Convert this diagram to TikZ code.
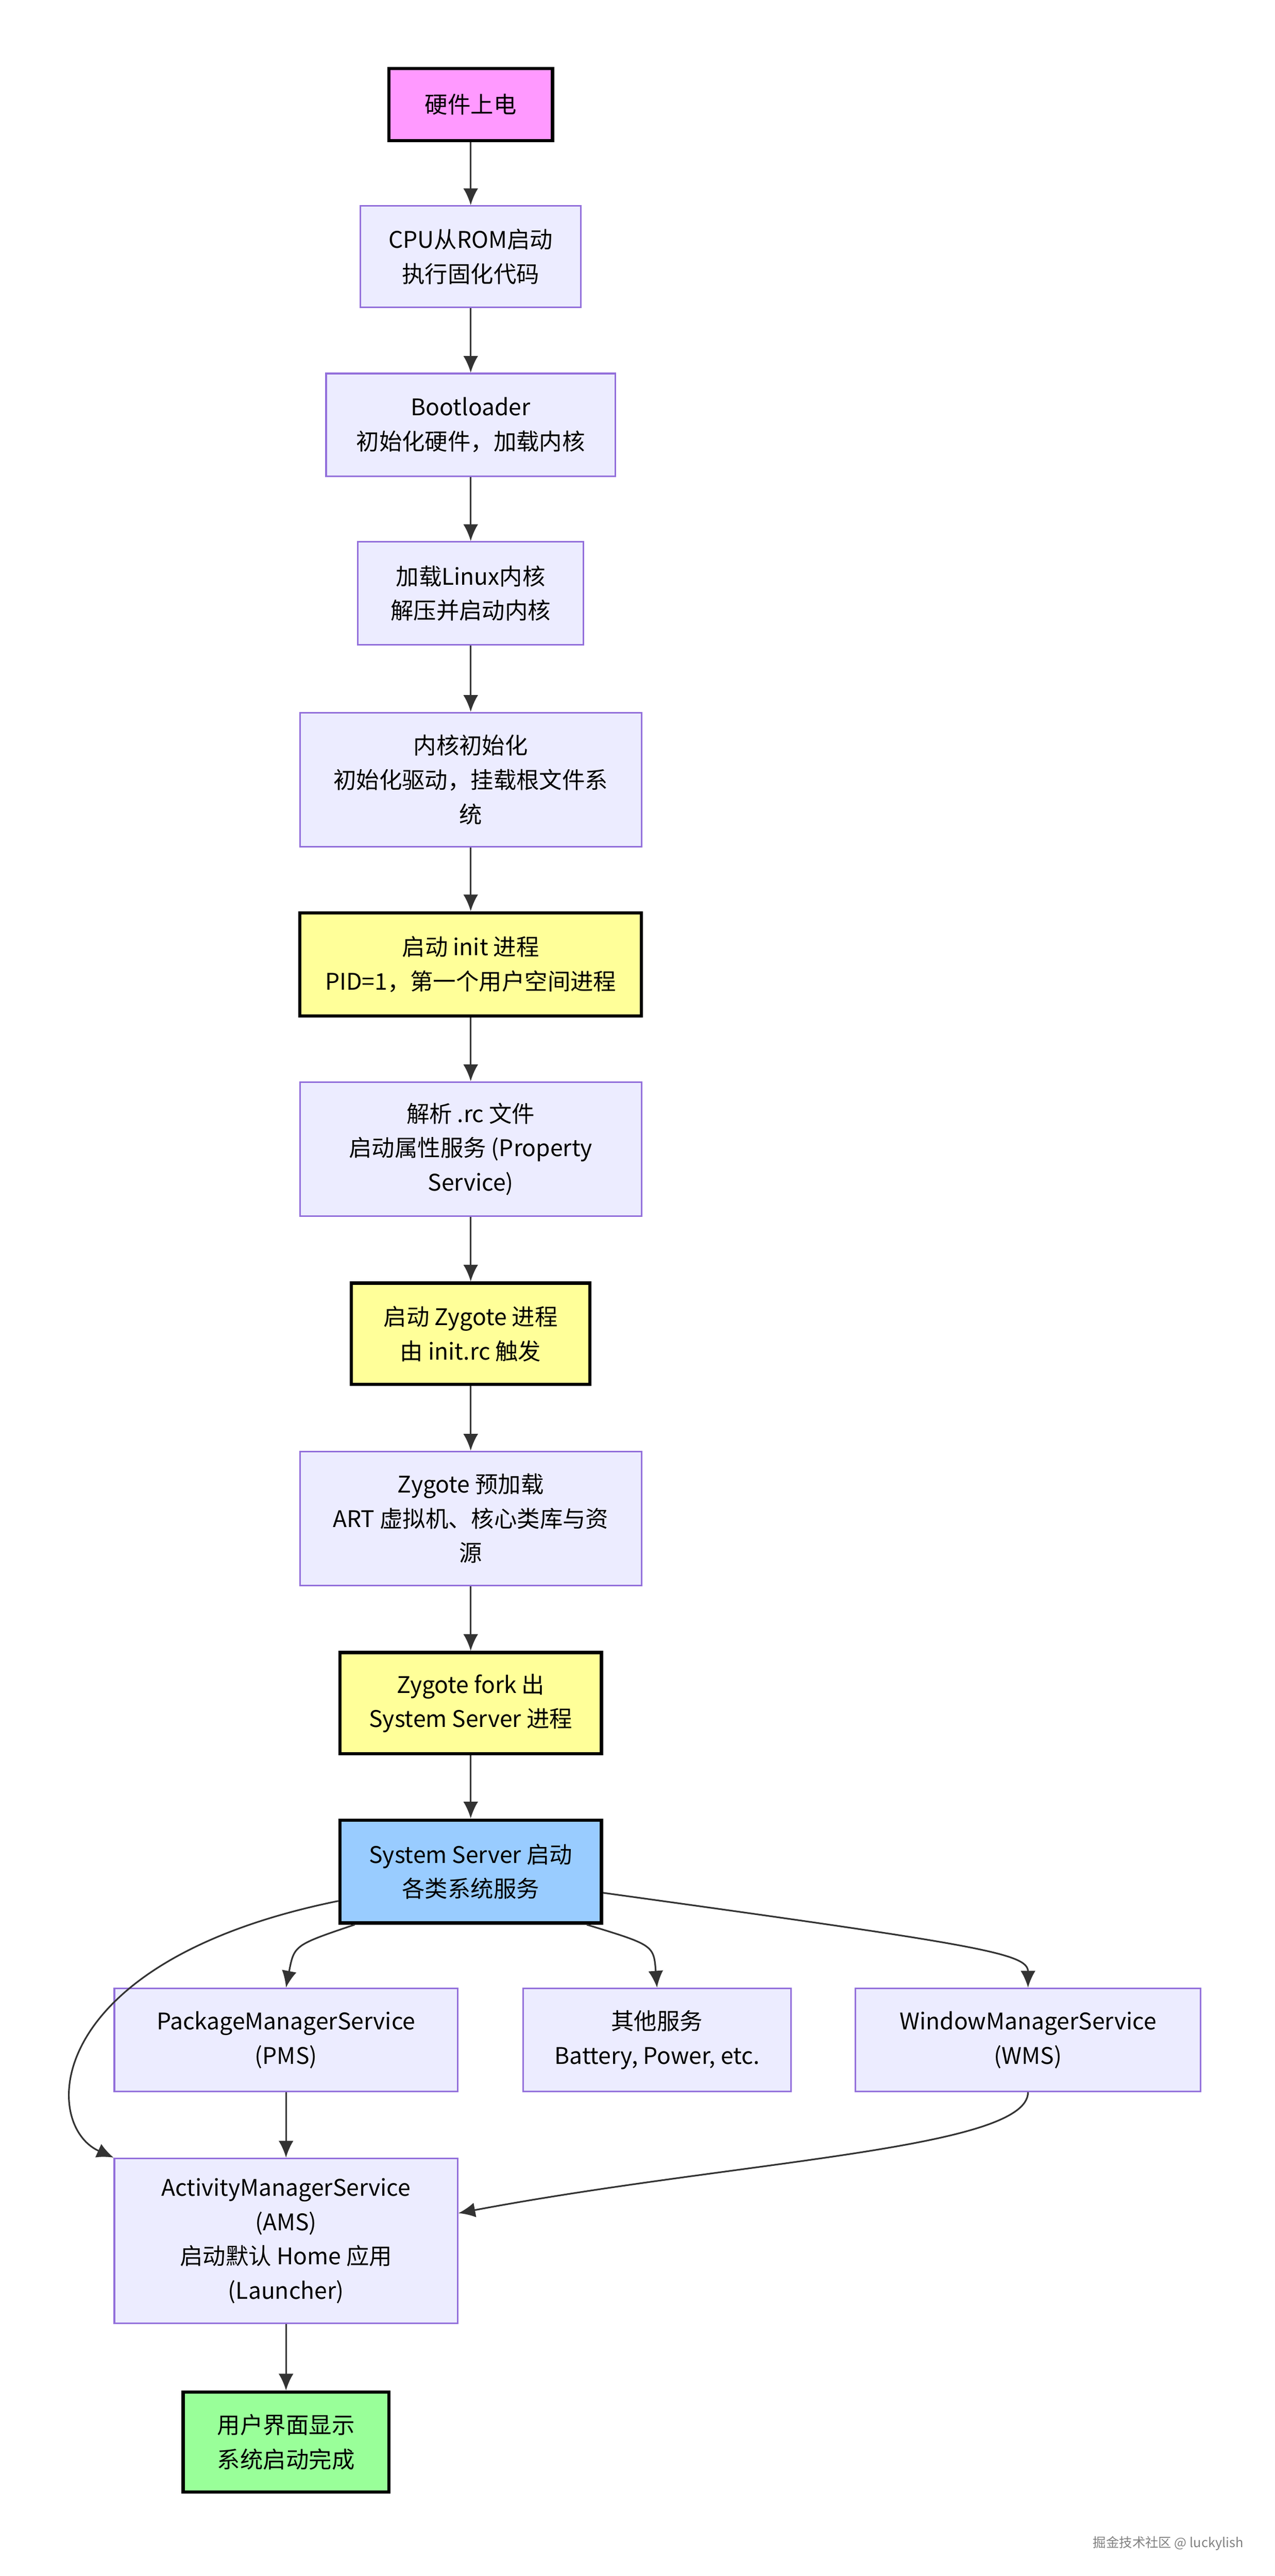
\documentclass[tikz,border=0pt]{standalone}
\usepackage{fontspec}
\setmainfont{Noto Sans CJK SC}
\usetikzlibrary{arrows.meta, positioning, calc}
\definecolor{boxfill}{HTML}{ECECFF}
\definecolor{boxline}{HTML}{9370DB}
\definecolor{pinkfill}{HTML}{FF99FF}
\definecolor{yellowfill}{HTML}{FFFF99}
\definecolor{bluefill}{HTML}{99CCFF}
\definecolor{greenfill}{HTML}{99FF99}
\definecolor{linkcol}{HTML}{333333}
\begin{document}
\begin{tikzpicture}[
        x = 0.5pt, y = -0.5pt,
        > = {Latex[width=1.6mm,length=1.8mm]},
        line width = 0.5pt,
        block/.style = {
            draw = boxline,
            rectangle,
            fill = boxfill,
            align = center,
            inner sep = 0pt,
            font = \fontsize{7}{10.5}\selectfont
        },
        key/.style = {
            block,
            draw = black,
            line width = 1pt
        },
        link/.style = {->, draw = linkcol, line width = 0.5pt},
        every node/.style = {font = \fontsize{7}{10.5}\selectfont}
    ]
        \useasboundingbox (0,0) rectangle (780,1576);

        \node[key, fill=pinkfill, minimum width=50pt, minimum height=22pt] (power) at (288,64) {硬件上电};
        \node[block, minimum width=67.5pt, minimum height=31pt] (rom) at (288,157) {CPU从ROM启动\\执行固化代码};
        \node[block, minimum width=88.5pt, minimum height=31.5pt] (boot) at (288,260) {Bootloader\\初始化硬件，加载内核};
        \node[block, minimum width=69pt, minimum height=31.5pt] (kernel) at (288,363) {加载Linux内核\\解压并启动内核};
        \node[block, minimum width=104.5pt, minimum height=41pt] (kinit) at (288,477) {内核初始化\\初始化驱动，挂载根文件系\\统};
        \node[key, fill=yellowfill, minimum width=104.5pt, minimum height=31.5pt] (init) at (288,590) {启动 init 进程\\PID=1，第一个用户空间进程};
        \node[block, minimum width=104.5pt, minimum height=41pt] (rc) at (288,703) {解析 .rc 文件\\启动属性服务 (Property\\Service)};
        \node[key, fill=yellowfill, minimum width=73pt, minimum height=31pt] (zygote) at (288,816) {启动 Zygote 进程\\由 init.rc 触发};
        \node[block, minimum width=104.5pt, minimum height=41pt] (preload) at (288,929) {Zygote 预加载\\ART 虚拟机、核心类库与资\\源};
        \node[key, fill=yellowfill, minimum width=80pt, minimum height=31pt] (fork) at (288,1042) {Zygote fork 出\\System Server 进程};
        \node[key, fill=bluefill, minimum width=80pt, minimum height=31.5pt] (server) at (288,1145) {System Server 启动\\各类系统服务};

        \node[block, minimum width=105pt, minimum height=31.5pt] (pms) at (175,1248) {PackageManagerService\\(PMS)};
        \node[block, minimum width=82pt, minimum height=31.5pt] (other) at (402,1248) {其他服务\\Battery, Power, etc.};
        \node[block, minimum width=105.5pt, minimum height=31.5pt] (wms) at (629,1248) {WindowManagerService\\(WMS)};
        \node[block, minimum width=105pt, minimum height=50.5pt] (ams) at (175,1371) {ActivityManagerService\\(AMS)\\启动默认 Home 应用\\(Launcher)};
        \node[key, fill=greenfill, minimum width=63pt, minimum height=30.5pt] (ui) at (175,1494) {用户界面显示\\系统启动完成};

        \node[anchor=east, text=gray, font=\fontsize{4}{5}\selectfont] (mark) at (768,1556) {掘金技术社区 @ luckylish};

        % main chain
        \draw[link] (power) -- (rom);
        \draw[link] (rom) -- (boot);
        \draw[link] (boot) -- (kernel);
        \draw[link] (kernel) -- (kinit);
        \draw[link] (kinit) -- (init);
        \draw[link] (init) -- (rc);
        \draw[link] (rc) -- (zygote);
        \draw[link] (zygote) -- (preload);
        \draw[link] (preload) -- (fork);
        \draw[link] (fork) -- (server);

        % services
        \draw[link] (server.south west) ++(10,0) .. controls (180,1190) .. (pms.north);
        \draw[link] (server.south east) ++(-10,0) .. controls (400,1190) .. (other.north);
        \draw[link] (server.east) ++(0,13) .. controls (600,1190) and (629,1195) .. (wms.north);
        \draw[link] (server.west) ++(0,18) .. controls (25,1200) and (25,1300) .. (ams.north west);
        \draw[link] (pms) -- (ams);
        \draw[link] (wms.south) .. controls (629,1315) and (450,1322) .. ($(ams.north east)+(0,34)$);
        \draw[link] (ams) -- (ui);
    \end{tikzpicture}
\end{document}
